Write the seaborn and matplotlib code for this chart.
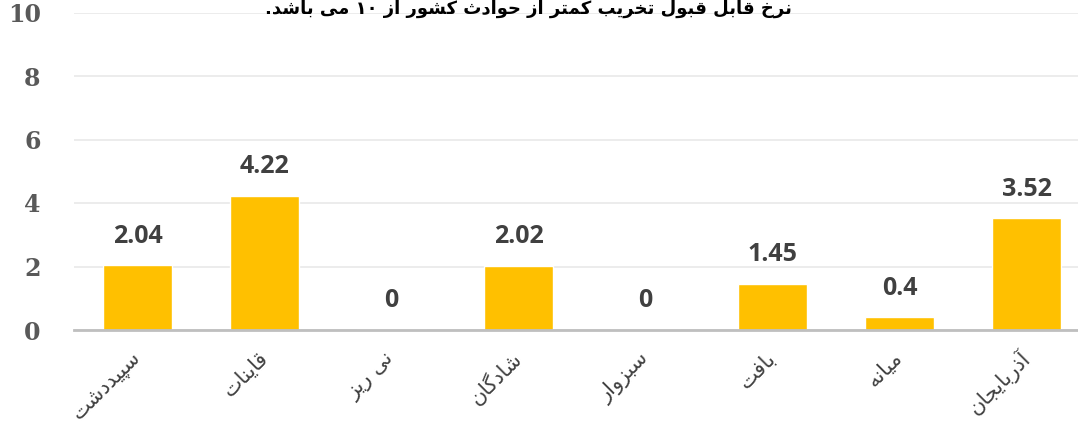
import numpy as np
import pandas as pd
import matplotlib
matplotlib.use('Agg')
import matplotlib.pyplot as plt
import seaborn as sns

# data
cities = ['سپیددشت', 'قاینات', 'نی ریز', 'شادگان', 'سبزوار', 'بافت', 'میانه', 'آذربایجان']
rates = [2.04, 4.22, 0, 2.02, 0, 1.45, 0.4, 3.52]
yticks = [0, 2, 4, 6, 8, 10]
title = 'نرخ قابل قبول تخریب کمتر از حوادث کشور از ۱۰ می باشد.'

# small persian shaper (matplotlib has no shaping / bidi)
# letter: (isolated, final, initial, medial) ; right-joining letters have only 2 forms
forms = {
    'ا': (0xFE8D, 0xFE8E), 'آ': (0xFE81, 0xFE82), 'د': (0xFEA9, 0xFEAA),
    'ذ': (0xFEAB, 0xFEAC), 'ر': (0xFEAD, 0xFEAE), 'ز': (0xFEAF, 0xFEB0),
    'و': (0xFEED, 0xFEEE),
    'ب': (0xFE8F, 0xFE90, 0xFE91, 0xFE92), 'پ': (0xFB56, 0xFB57, 0xFB58, 0xFB59),
    'ت': (0xFE95, 0xFE96, 0xFE97, 0xFE98), 'ث': (0xFE99, 0xFE9A, 0xFE9B, 0xFE9C),
    'ج': (0xFE9D, 0xFE9E, 0xFE9F, 0xFEA0),
    'ح': (0xFEA1, 0xFEA2, 0xFEA3, 0xFEA4), 'خ': (0xFEA5, 0xFEA6, 0xFEA7, 0xFEA8),
    'س': (0xFEB1, 0xFEB2, 0xFEB3, 0xFEB4), 'ش': (0xFEB5, 0xFEB6, 0xFEB7, 0xFEB8),
    'ع': (0xFEC9, 0xFECA, 0xFECB, 0xFECC), 'ف': (0xFED1, 0xFED2, 0xFED3, 0xFED4),
    'ق': (0xFED5, 0xFED6, 0xFED7, 0xFED8), 'ک': (0xFB8E, 0xFB8F, 0xFB90, 0xFB91),
    'گ': (0xFB92, 0xFB93, 0xFB94, 0xFB95), 'ل': (0xFEDD, 0xFEDE, 0xFEDF, 0xFEE0),
    'م': (0xFEE1, 0xFEE2, 0xFEE3, 0xFEE4), 'ن': (0xFEE5, 0xFEE6, 0xFEE7, 0xFEE8),
    'ه': (0xFEE9, 0xFEEA, 0xFEEB, 0xFEEC), 'ی': (0xFBFC, 0xFBFD, 0xFBFE, 0xFBFF),
    'ي': (0xFEF1, 0xFEF2, 0xFEF3, 0xFEF4),
}


def shape_word(w):
    out = []
    for i, ch in enumerate(w):
        if ch not in forms:
            out.append(ch)
            continue
        prev = w[i - 1] if i > 0 else ''
        nxt = w[i + 1] if i < len(w) - 1 else ''
        join_prev = prev in forms and len(forms[prev]) == 4
        join_next = nxt in forms and len(forms[ch]) == 4
        f = forms[ch]
        if join_prev and join_next:
            out.append(chr(f[3]))
        elif join_prev:
            out.append(chr(f[1]))
        elif join_next:
            out.append(chr(f[2]))
        else:
            out.append(chr(f[0]))
    return ''.join(out)[::-1]


def fa(s):
    words = []
    for w in s.split(' '):
        if w.isdigit():
            words.append(w)
        else:
            words.append(shape_word(w))
    return ' '.join(words[::-1])


df = pd.DataFrame({'city': [fa(c) for c in cities], 'rate': rates})

sns.set_style('white')
plt.rcParams['font.family'] = ['DejaVu Sans']

fig = plt.figure(figsize=(10.78, 4.34), dpi=100)
ax = fig.add_axes([74 / 1078, 104 / 434, 1016 / 1078, 317.5 / 434])

sns.barplot(data=df, x='city', y='rate', color='#FFC000', saturation=1,
            width=0.545, ax=ax)
ax.set_ylim(0, 10)
ax.set_xlim(-0.5, len(cities) - 0.5)
ax.set_yticks(yticks)
ax.set_yticklabels([str(t) for t in yticks], family='DejaVu Serif',
                   fontweight='bold', fontsize=17, color='#595959')
ax.tick_params(axis='y', length=0, pad=24)
ax.tick_params(axis='x', length=0, pad=18)
for lab in ax.get_xticklabels():
    lab.set_rotation(45)
    lab.set_ha('right')
    lab.set_va('center')
    lab.set_rotation_mode('anchor')
    lab.set_fontsize(15)
    lab.set_color('#404040')
ax.set_xlabel('')
ax.set_ylabel('')
ax.yaxis.grid(True, color='#ebebeb', linewidth=1.3)
ax.set_axisbelow(True)
for s in ['top', 'right', 'left']:
    ax.spines[s].set_visible(False)
ax.spines['bottom'].set_color('#bfbfbf')
ax.spines['bottom'].set_linewidth(2)

ax.bar_label(ax.containers[0], labels=[f'{v:g}' for v in rates], padding=12,
             fontsize=18, fontweight='bold', color='#404040', family='Open Sans')

fig.text(0.49, 1 - 14 / 434, fa(title), ha='center', va='baseline',
         fontsize=13, fontweight='bold', color='black')

fig.savefig('out.png', dpi=100)
